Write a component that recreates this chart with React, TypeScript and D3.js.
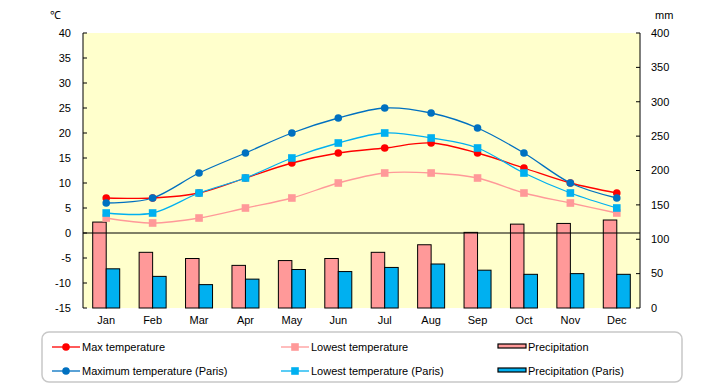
import React from 'react';
import * as d3 from 'd3';

const months = ['Jan', 'Feb', 'Mar', 'Apr', 'May', 'Jun', 'Jul', 'Aug', 'Sep', 'Oct', 'Nov', 'Dec'];
const maxTemp = [7, 7, 8, 11, 14, 16, 17, 18, 16, 13, 10, 8];
const lowTemp = [3, 2, 3, 5, 7, 10, 12, 12, 11, 8, 6, 4];
const parisMax = [6, 7, 12, 16, 20, 23, 25, 24, 21, 16, 10, 7];
const parisLow = [4, 4, 8, 11, 15, 18, 20, 19, 17, 12, 8, 5];
const precip = [125, 81, 72, 62, 69, 72, 81, 92, 110, 122, 123, 128];
const parisPrecip = [57, 46, 34, 42, 56, 53, 59, 64, 55, 49, 50, 49];
const tempTicks = [40, 35, 30, 25, 20, 15, 10, 5, 0, -5, -10, -15];
const mmTicks = [400, 350, 300, 250, 200, 150, 100, 50, 0];

const W = 720;
const H = 385;
const margin = { left: 83, right: 80, top: 33, bottom: 77 };
const font = '"Liberation Sans", Arial, sans-serif';

const App = () => {
  const x = d3.scaleBand<string>().domain(months).range([margin.left, W - margin.right]);
  const yT = d3.scaleLinear().domain([-15, 40]).range([H - margin.bottom, margin.top]);
  const yP = d3.scaleLinear().domain([0, 400]).range([H - margin.bottom, margin.top]);
  const cx = (m: string) => (x(m) as number) + x.bandwidth() / 2;
  const barW = 13.5;

  const line = d3.line<number>()
    .curve(d3.curveCatmullRom.alpha(0))
    .x((_, i) => cx(months[i]))
    .y(d => yT(d));

  const series = [
    { data: lowTemp, color: '#FF9999', marker: 'square' },
    { data: maxTemp, color: '#FF0000', marker: 'circle' },
    { data: parisLow, color: '#00B0F0', marker: 'square' },
    { data: parisMax, color: '#0070C0', marker: 'circle' },
  ];

  const marker = (kind: string, px: number, py: number, color: string, key: string | number) =>
    kind === 'circle'
      ? <circle key={key} cx={px} cy={py} r={3.8} fill={color} />
      : <rect key={key} x={px - 3.8} y={py - 3.8} width={7.6} height={7.6} fill={color} />;

  const legendItems = [
    { label: 'Max temperature', kind: 'line', color: '#FF0000', marker: 'circle', x: 52, y: 347 },
    { label: 'Lowest temperature', kind: 'line', color: '#FF9999', marker: 'square', x: 281, y: 347 },
    { label: 'Precipitation', kind: 'bar', color: '#FF9999', x: 498, y: 347 },
    { label: 'Maximum temperature (Paris)', kind: 'line', color: '#0070C0', marker: 'circle', x: 52, y: 371 },
    { label: 'Lowest temperature (Paris)', kind: 'line', color: '#00B0F0', marker: 'square', x: 281, y: 371 },
    { label: 'Precipitation (Paris)', kind: 'bar', color: '#00B0F0', x: 498, y: 371 },
  ];

  return (
    <svg width={W} height={H} style={{ position: 'absolute', left: 0, top: 0, background: '#fff' }} fontFamily={font}>
      <rect x={margin.left} y={margin.top} width={W - margin.left - margin.right} height={H - margin.top - margin.bottom} fill="#FFFFCC" />

      {/* bars */}
      {months.map((m, i) => (
        <g key={m}>
          <rect x={cx(m) - barW} y={yP(precip[i])} width={barW} height={yP(0) - yP(precip[i])} fill="#FF9999" stroke="#000" strokeWidth={1} />
          <rect x={cx(m)} y={yP(parisPrecip[i])} width={barW} height={yP(0) - yP(parisPrecip[i])} fill="#00B0F0" stroke="#000" strokeWidth={1} />
        </g>
      ))}

      {/* zero line */}
      <line x1={margin.left} x2={W - margin.right} y1={yT(0)} y2={yT(0)} stroke="#000" strokeWidth={1} />

      {/* lines */}
      {series.map((s, si) => (
        <g key={si}>
          <path d={line(s.data) as string} fill="none" stroke={s.color} strokeWidth={1.3} />
          {s.data.map((v, i) => marker(s.marker, cx(months[i]), yT(v), s.color, i))}
        </g>
      ))}

      {/* left axis */}
      <line x1={margin.left} x2={margin.left} y1={margin.top} y2={H - margin.bottom} stroke="#000" />
      {tempTicks.map(t => (
        <g key={t}>
          <line x1={margin.left} x2={margin.left + 4} y1={yT(t)} y2={yT(t)} stroke="#000" />
          <text x={71} y={yT(t)} dy="0.35em" textAnchor="end" fontSize={11}>{t}</text>
        </g>
      ))}
      <text x={50} y={19} fontSize={11}>℃</text>

      {/* right axis */}
      <line x1={W - margin.right} x2={W - margin.right} y1={margin.top} y2={H - margin.bottom} stroke="#000" />
      {mmTicks.map(t => (
        <g key={t}>
          <line x1={W - margin.right - 4} x2={W - margin.right} y1={yP(t)} y2={yP(t)} stroke="#000" />
          <text x={651} y={yP(t)} dy="0.35em" textAnchor="start" fontSize={11}>{t}</text>
        </g>
      ))}
      <text x={655} y={19} fontSize={11}>mm</text>

      {/* x labels */}
      {months.map(m => (
        <text key={m} x={cx(m)} y={324} textAnchor="middle" fontSize={11}>{m}</text>
      ))}

      {/* legend */}
      <rect x={42} y={332} width={640} height={50} rx={7} fill="#fff" stroke="#c8c8c8" strokeWidth={1.5} />
      {legendItems.map(it => (
        <g key={it.label}>
          {it.kind === 'line' ? (
            <g>
              <line x1={it.x} x2={it.x + 28} y1={it.y} y2={it.y} stroke={it.color} strokeWidth={1.3} />
              {marker(it.marker as string, it.x + 14, it.y, it.color, 'm')}
            </g>
          ) : (
            <rect x={it.x} y={it.y - 3} width={28} height={4} fill={it.color} stroke="#000" strokeWidth={1.2} />
          )}
          <text x={it.x + 30} y={it.y} dy="0.35em" fontSize={11}>{it.label}</text>
        </g>
      ))}
    </svg>
  );
};

export default App;
